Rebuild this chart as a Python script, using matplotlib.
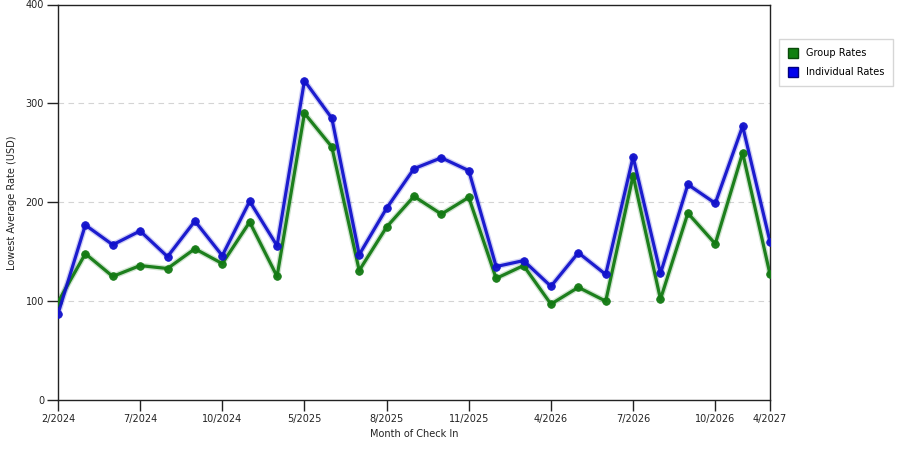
import matplotlib
matplotlib.use('Agg')
import matplotlib.pyplot as plt
from matplotlib.patches import Patch

# lowest average rates per month of check in
group_rates = [99, 148, 125, 136, 133, 153, 138, 180, 125, 290,
               256, 131, 175, 206, 188, 205, 123, 136, 97, 114,
               100, 227, 102, 189, 158, 250, 127]
individual_rates = [87, 177, 157, 171, 145, 181, 146, 201, 156, 323,
                    285, 147, 194, 234, 245, 232, 135, 141, 115, 149,
                    127, 246, 128, 218, 199, 277, 160]

tick_idx = [0, 3, 6, 9, 12, 15, 18, 21, 24, 26]
tick_labels = ['2/2024', '7/2024', '10/2024', '5/2025', '8/2025',
               '11/2025', '4/2026', '7/2026', '10/2026', '4/2027']

green = '#137a13'
blue = '#1212cc'

plt.rcParams['font.family'] = 'DejaVu Sans'

fig = plt.figure(figsize=(9, 4.5), dpi=100)
ax = fig.add_axes([0.0644, 0.111, 0.7912, 0.879])

x = list(range(len(group_rates)))

# soft halo under the lines, then the line with its markers
for vals, col in ((group_rates, green), (individual_rates, blue)):
    ax.plot(x, vals, color=col, linewidth=4.2, alpha=0.2,
            solid_joinstyle='round', zorder=2)
    ax.plot(x, vals, color=col, linewidth=2.3, marker='o', markersize=5.5,
            markeredgecolor=col, markeredgewidth=0.6, alpha=0.95,
            solid_joinstyle='round', zorder=3)

ax.set_xlim(0, len(group_rates) - 1)
ax.set_ylim(0, 400)
ax.set_yticks([0, 100, 200, 300, 400])
ax.set_xticks(tick_idx)
ax.set_xticklabels(tick_labels)

for yv in [100, 200, 300]:
    ax.axhline(yv, color='#d4d4d4', linewidth=0.8, linestyle=(0, (5, 4)), zorder=1)

for s in ['left', 'bottom', 'right', 'top']:
    ax.spines[s].set_color('#222222')
    ax.spines[s].set_linewidth(1.0)

ax.tick_params(axis='both', direction='out', length=8, width=1.0,
               color='#222222', labelsize=7, labelcolor='#222222', pad=2)

ax.set_xlabel('Month of Check In', fontsize=7, color='#222222', labelpad=4)
ax.set_ylabel('Lowest Average Rate (USD)', fontsize=7, color='#222222', labelpad=6)

handles = [Patch(facecolor='#118011', edgecolor='#0a4a0a', label='Group Rates'),
           Patch(facecolor='#0000ee', edgecolor='#000080', label='Individual Rates')]
leg = fig.legend(handles=handles, loc='upper left', bbox_to_anchor=(0.8656, 0.9133),
                 borderaxespad=0, fontsize=7, frameon=True, fancybox=False,
                 handlelength=1.1, handleheight=1.3, handletextpad=0.8,
                 borderpad=0.9, labelspacing=0.85)
leg.get_frame().set_edgecolor('#cccccc')
leg.get_frame().set_linewidth(1.0)

fig.savefig('out.png', dpi=100)
